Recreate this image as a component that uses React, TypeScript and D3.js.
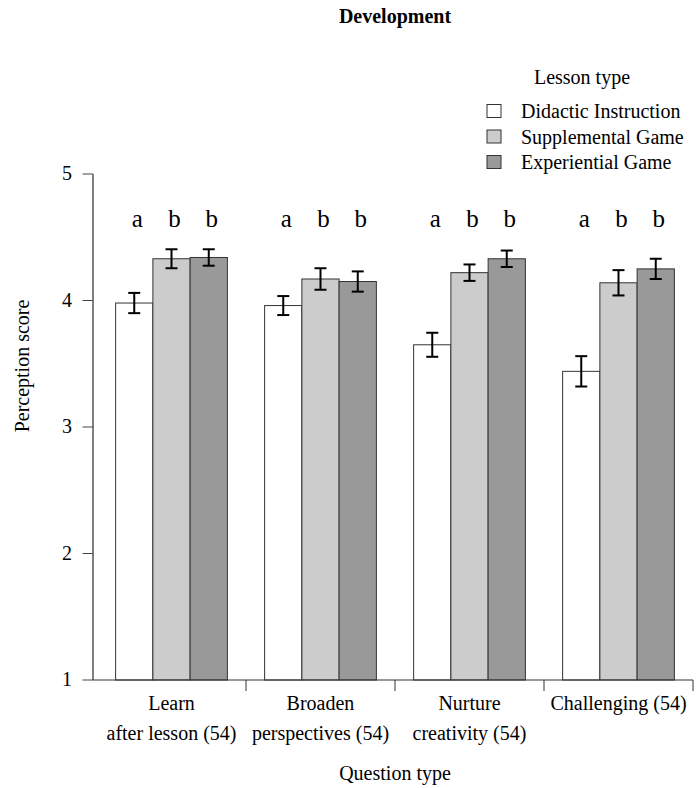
import * as d3 from 'd3';

// question groups (x axis), two lines each
const questions = ['learn', 'broaden', 'nurture', 'challenging'];
const questionLabels: string[][] = [
  ['Learn', 'after lesson (54)'],
  ['Broaden', 'perspectives (54)'],
  ['Nurture', 'creativity (54)'],
  ['Challenging (54)'],
];

const lessonTypes = ['Didactic Instruction', 'Supplemental Game', 'Experiential Game'];
const lessonFills = ['#ffffff', '#cccccc', '#999999'];

// mean perception score per lesson type, one value per question
const didacticMeans = [3.98, 3.96, 3.65, 3.44];
const supplementalMeans = [4.33, 4.17, 4.22, 4.14];
const experientialMeans = [4.34, 4.15, 4.33, 4.25];

// standard errors
const didacticSe = [0.08, 0.075, 0.095, 0.12];
const supplementalSe = [0.075, 0.085, 0.065, 0.1];
const experientialSe = [0.065, 0.08, 0.065, 0.08];

// significance letters, same for every question
const groupLetters = ['a', 'b', 'b'];

const yTicks = [1, 2, 3, 4, 5];

const W = 699;
const H = 788;
const FONT = '"Liberation Serif", "Times New Roman", serif';

export default function App() {
  const means = [didacticMeans, supplementalMeans, experientialMeans];
  const ses = [didacticSe, supplementalSe, experientialSe];

  const y = d3.scaleLinear().domain([1, 5]).range([680, 174]);
  const x = d3.scaleBand<string>().domain(questions).range([97, 693]);
  const bw = x.bandwidth();
  const inner = d3
    .scaleBand<number>()
    .domain([0, 1, 2])
    .range([bw * 0.125, bw * 0.875]);

  const axisX0 = 93;

  return (
    <svg
      width={W}
      height={H}
      style={{ position: 'absolute', left: 0, top: 0, background: '#fff' }}
      fontFamily={FONT}
    >
      {/* title */}
      <text x={395} y={23} textAnchor="middle" fontSize={20} fontWeight="bold" fill="#000">
        Development
      </text>

      {/* legend */}
      <g>
        <text x={582} y={84} textAnchor="middle" fontSize={20} fill="#000">
          Lesson type
        </text>
        {lessonTypes.map((name, i) => (
          <g key={name} transform={`translate(0,${111 + i * 25.5})`}>
            <rect x={487} y={-6.5} width={14} height={13} fill={lessonFills[i]} stroke="#333" strokeWidth={1} />
            <text x={521} y={7} fontSize={20} fill="#000">
              {name}
            </text>
          </g>
        ))}
      </g>

      {/* bars */}
      {questions.map((q, qi) => (
        <g key={q} transform={`translate(${x(q)},0)`}>
          {means.map((series, si) => {
            const bx = inner(si)!;
            const iw = inner.bandwidth();
            const v = series[qi];
            return (
              <rect
                key={si}
                x={bx}
                y={y(v)}
                width={iw}
                height={y(1) - y(v)}
                fill={lessonFills[si]}
                stroke="#333"
                strokeWidth={1}
              />
            );
          })}
          {means.map((series, si) => {
            const cx = inner(si)! + inner.bandwidth() / 2;
            const v = series[qi];
            const se = ses[si][qi];
            const lo = y(v - se);
            const hi = y(v + se);
            return (
              <g key={'e' + si} stroke="#000" strokeWidth={2}>
                <line x1={cx} x2={cx} y1={lo} y2={hi} />
                <line x1={cx - 6} x2={cx + 6} y1={lo} y2={lo} />
                <line x1={cx - 6} x2={cx + 6} y1={hi} y2={hi} />
              </g>
            );
          })}
          {groupLetters.map((l, si) => (
            <text
              key={'l' + si}
              x={inner(si)! + inner.bandwidth() / 2 + 3}
              y={y(4.58)}
              textAnchor="middle"
              fontSize={25}
              fill="#000"
            >
              {l}
            </text>
          ))}
        </g>
      ))}

      {/* y axis */}
      <g>
        <line x1={axisX0} x2={axisX0} y1={y(1)} y2={y(5)} stroke="#000" strokeWidth={1} />
        {yTicks.map((t) => (
          <g key={t}>
            <line x1={axisX0 - 10.5} x2={axisX0} y1={y(t)} y2={y(t)} stroke="#444" strokeWidth={1} />
            <text x={72} y={y(t) + 6} textAnchor="end" fontSize={20} fill="#000">
              {t}
            </text>
          </g>
        ))}
        <text
          transform={`translate(29,366) rotate(-90)`}
          textAnchor="middle"
          fontSize={20}
          fill="#000"
        >
          Perception score
        </text>
      </g>

      {/* x axis */}
      <g>
        <line x1={axisX0} x2={693} y1={y(1)} y2={y(1)} stroke="#333" strokeWidth={1} />
        {questions.map((q) => (
          <line
            key={q}
            x1={x(q)! + bw}
            x2={x(q)! + bw}
            y1={y(1)}
            y2={y(1) + 11}
            stroke="#333"
            strokeWidth={1}
          />
        ))}
        {questions.map((q, qi) => (
          <text key={q} x={x(q)! + bw / 2} textAnchor="middle" fontSize={20} fill="#000">
            {questionLabels[qi].map((line, li) => (
              <tspan key={li} x={x(q)! + bw / 2} y={710 + li * 30}>
                {line}
              </tspan>
            ))}
          </text>
        ))}
        <text x={395} y={780} textAnchor="middle" fontSize={20} fill="#000">
          Question type
        </text>
      </g>
    </svg>
  );
}
